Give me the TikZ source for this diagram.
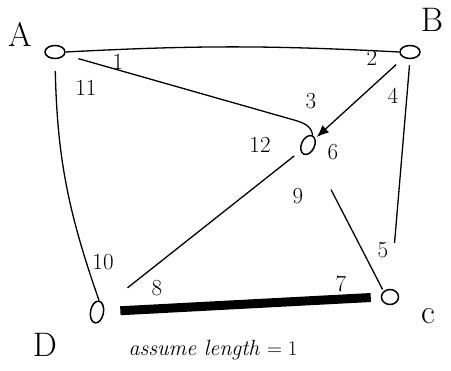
\documentclass[tikz,border=0pt]{standalone}
\usepackage{tikz}
\usetikzlibrary{arrows.meta,shapes.geometric}

\begin{document}
\begin{tikzpicture}[x=1pt,y=-1pt,line width=1.3pt,
    every node/.style={font=\fontsize{22}{24}\selectfont},
    vert/.style={draw,ellipse,line width=1.5pt,minimum width=20pt,minimum height=13pt,inner sep=0pt},
    vname/.style={font=\fontsize{34}{36}\selectfont},
    elabel/.style={font=\fontsize{23}{25}\selectfont}]
    \useasboundingbox (0,0) rectangle (451,371);
    % vertices
    \node[vert] (A) at (55,52) {};
    \node[vert] (B) at (410,52) {};
    \node[vert,rotate=65] (O) at (308,145) {};
    \node[vert,minimum width=17pt,minimum height=15pt] (C) at (390,297) {};
    \node[vert,rotate=80,minimum width=22pt] (D) at (97,312) {};
    \node[vname] (lA) at (20,34) {A};
    \node[vname] (lB) at (432,20) {B};
    \node[vname] (lC) at (428,316) {c};
    \node[vname] (lD) at (45,345) {D};
    \coordinate (kAO) at (294,120);
    % edges
    \draw (A.east) to[bend left=3] (B.west);
    \draw[shorten <=14pt] (A) -- (kAO) to[out=-16,in=95] (O.east);
    \draw[-{Latex[length=12pt,width=10pt]},shorten <=10pt,shorten >=2pt] (B) -- (O);
    \draw[shorten <=12pt] (A.south) to[bend right=9] (D.east);
    \draw[shorten <=6pt,shorten >=46pt] (B.south) -- (C);
    \draw[shorten <=8pt,shorten >=30pt] (O) -- (D);
    \draw[shorten <=42pt,shorten >=2pt] (O) -- (C.north west);
    \draw[line width=9pt,shorten <=16pt,shorten >=10pt] (D) -- (C.west);
    % edge numbers
    \node[elabel] (n1) at (118,62) {1};
    \node[elabel] (n2) at (372,58) {2};
    \node[elabel] (n3) at (311,101) {3};
    \node[elabel] (n4) at (393,96) {4};
    \node[elabel] (n5) at (383,250) {5};
    \node[elabel] (n6) at (333,152) {6};
    \node[elabel] (n7) at (341,284) {7};
    \node[elabel] (n8) at (157,288) {8};
    \node[elabel] (n9) at (298,196) {9};
    \node[elabel] (n10) at (103,262) {10};
    \node[elabel] (n11) at (86,88) {11};
    \node[elabel] (n12) at (260,145) {12};
    \node (note) at (213,350) {\itshape assume length $=1$};
\end{tikzpicture}
\end{document}
